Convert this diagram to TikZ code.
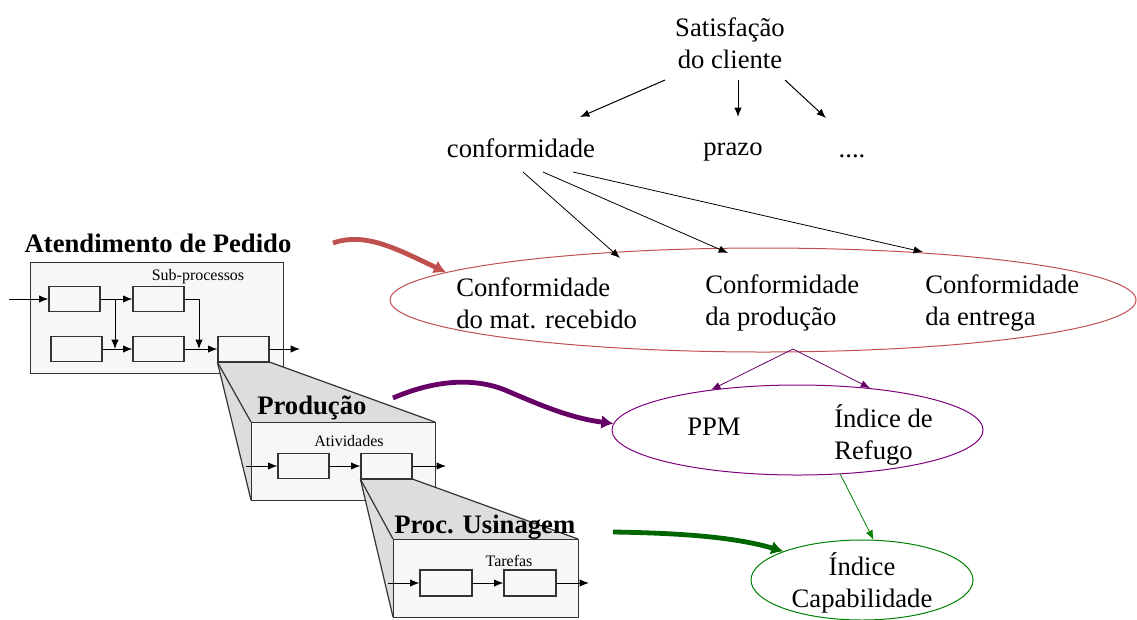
\documentclass[tikz,border=0pt]{standalone}
\usepackage{fontspec}
\setmainfont{Liberation Serif}
\usetikzlibrary{arrows.meta,shapes.geometric}
\definecolor{redA}{HTML}{C0504D}
\definecolor{purA}{HTML}{660066}
\definecolor{purB}{HTML}{800080}
\definecolor{grnA}{HTML}{006600}
\definecolor{grnB}{HTML}{008000}
\definecolor{boxfill}{HTML}{F7F7F7}
\definecolor{prismgray}{HTML}{DDDDDD}
\begin{document}
\begin{tikzpicture}[x=0.75pt,y=-0.75pt,
  big/.style={font=\fontsize{20}{24}\selectfont, inner sep=0pt},
  bigb/.style={font=\bfseries\fontsize{20}{24}\selectfont, inner sep=0pt},
  small/.style={font=\fontsize{12}{14}\selectfont, inner sep=0pt},
  edge/.style={draw=black!80, line width=0.9pt},
  pbox/.style={edge, fill=boxfill, inner sep=0pt, anchor=north west},
  sbox/.style={edge, fill=boxfill, inner sep=0pt, minimum width=51*0.75pt, minimum height=25*0.75pt},
  prism/.style={fill=prismgray},
  arr/.style={-{Latex[length=7pt,width=5.5pt]}, line width=0.75pt},
  thin/.style={-{Latex[length=7pt,width=5.5pt]}, line width=0.6pt},
  ell/.style={ellipse, inner sep=0pt, line width=0.75pt},
  fat/.style={line width=3.6pt, -{Latex[length=9pt,width=10.5pt]}}
]
\useasboundingbox (0,0) rectangle (1137,619);

% ---------- right side: hierarchy ----------
\node[big, align=center] (sat) at (730,43) {Satisfação\\do cliente};
\node[big, anchor=base] (conf) at (521,157) {conformidade};
\node[big, anchor=base] (prazo) at (733,155) {prazo};
\node[big, anchor=base] (dots) at (852,157) {....};

\coordinate (s1) at (665,80);
\coordinate (s2) at (738,80);
\coordinate (s3) at (785,80);
\coordinate (e1) at (580,117);
\coordinate (e2) at (738,117);
\coordinate (e3) at (826,118);
\draw[arr] (s1) -- (e1);
\draw[arr] (s2) -- (e2);
\draw[arr] (s3) -- (e3);

% red ellipse
\node[ell, draw=redA, minimum width=746*0.75pt, minimum height=104*0.75pt] (red) at (763,300) {};
\node[big, align=left, anchor=west] (c1) at (456,303) {Conformidade\\do mat. recebido};
\node[big, align=left, anchor=west] (c2) at (705,303) {Conformidade\\da produção};
\node[big, align=left, anchor=west] (c3) at (925,303) {Conformidade\\da entrega};

\coordinate (f1) at (523,172);
\coordinate (f2) at (543,172);
\coordinate (f3) at (573,172);
\coordinate (g1) at (620,258);
\coordinate (g2) at (728,253);
\coordinate (g3) at (923,252);
\draw[thin] (f1) -- (g1);
\draw[thin] (f2) -- (g2);
\draw[thin] (f3) -- (g3);

% purple ellipse
\node[ell, draw=purB, minimum width=371*0.75pt, minimum height=90*0.75pt] (pur) at (797.5,430) {};
\node[big] (ppm) at (714,427) {PPM};
\node[big, align=left, anchor=west] (ref) at (834,435) {Índice de\\Refugo};
\coordinate (apex) at (793,349);
\draw[thin, purA] (apex) -- (pur.155.9);
\draw[thin, purA] (apex) -- (pur.30.6);

% green ellipse
\node[ell, draw=grnB, minimum width=222*0.75pt, minimum height=80*0.75pt] (grn) at (862,580) {};
\node[big, align=center] (cap) at (862,583) {Índice\\Capabilidade};
\draw[thin, grnB] (pur.-46) -- (grn.74.6);

% ---------- left side: processes ----------
\node[bigb] (tA) at (158,243) {Atendimento de Pedido};
\node[pbox, minimum width=253*0.75pt, minimum height=111*0.75pt] (atend) at (30,262) {};
\node[small] (subp) at (198,277) {Sub-processos};
\node[sbox] (b1) at (74.5,299) {};
\node[sbox] (b2) at (158.5,299) {};
\node[sbox] (b3) at (76.5,349) {};
\node[sbox] (b4) at (158.5,349) {};
\node[sbox] (b5) at (243.5,349) {};
\coordinate (inA) at (9,299);
\coordinate (j1) at (115,299);
\coordinate (j2) at (199,349);
\coordinate (outA) at (300,349);
\draw[arr] (inA) -- (b1.west);
\draw[arr] (b1.east) -- (b2.west);
\draw[arr] (j1) -- (j1 |- b4.west);
\draw[arr] (b3.east) -- (b4.west);
\draw[arr] (b2.east) -| (j2);
\draw[arr] (b4.east) -- (b5.west);
\draw[arr] (b5.east) -- (outA);

% prism 1
\coordinate (prodNW) at (251,422);
\coordinate (prodNE) at (435,422);
\coordinate (prodSW) at (251,500);
\fill[prism] (b5.south west) -- (b5.south east) -- (prodNE) -- (prodNW) -- cycle;
\fill[prism] (b5.south west) -- (prodNW) -- (prodSW) -- cycle;
\draw[edge] (b5.south west) -- (prodSW);
\draw[edge] (b5.south west) -- (prodNW);
\draw[edge] (b5.south east) -- (prodNE);
\draw[edge] (b5.south west) -- (b5.south east);

\node[pbox, minimum width=184*0.75pt, minimum height=78*0.75pt] (prod) at (prodNW) {};
\node[bigb, anchor=west] (tP) at (257,408) {Produção};
\node[small] (ativ) at (349,441) {Atividades};
\node[sbox] (p1) at (303.5,466) {};
\node[sbox] (p2) at (386.5,466) {};
\coordinate (inP) at (246,466);
\coordinate (outP) at (446,466);
\draw[arr] (inP) -- (p1.west);
\draw[arr] (p1.east) -- (p2.west);
\draw[arr] (p2.east) -- (outP);

% prism 2
\coordinate (usNW) at (393,539);
\coordinate (usNE) at (578,539);
\coordinate (usSW) at (393,617);
\fill[prism] (p2.south west) -- (p2.south east) -- (usNE) -- (usNW) -- cycle;
\fill[prism] (p2.south west) -- (usNW) -- (usSW) -- cycle;
\draw[edge] (p2.south west) -- (usSW);
\draw[edge] (p2.south west) -- (usNW);
\draw[edge] (p2.south east) -- (usNE);
\draw[edge] (p2.south west) -- (p2.south east);

\node[pbox, minimum width=185*0.75pt, minimum height=78*0.75pt] (usin) at (usNW) {};
\node[bigb, anchor=west] (tU) at (394,527) {Proc. Usinagem};
\node[small] (tar) at (509,561) {Tarefas};
\node[sbox, minimum width=52*0.75pt, minimum height=26*0.75pt] (u1) at (446,583) {};
\node[sbox, minimum width=52*0.75pt, minimum height=26*0.75pt] (u2) at (530,583) {};
\coordinate (inU) at (388,583);
\coordinate (outU) at (589,583);
\draw[arr] (inU) -- (u1.west);
\draw[arr] (u1.east) -- (u2.west);
\draw[arr] (u2.east) -- (outU);

% ---------- thick link arrows ----------
\coordinate (rS) at (333,243);
\coordinate (pS) at (393,398);
\coordinate (gS) at (613,532);
\draw[fat, redA] (rS) .. controls (365,232) and (395,248) .. (red.175.3);
\draw[fat, purA] (pS) .. controls (430,382) and (470,376) .. (505,390) .. controls (540,405) and (570,418) .. (pur.178);
\draw[fat, grnA] (gS) .. controls (680,533) and (735,537) .. (grn.160);
\end{tikzpicture}
\end{document}
